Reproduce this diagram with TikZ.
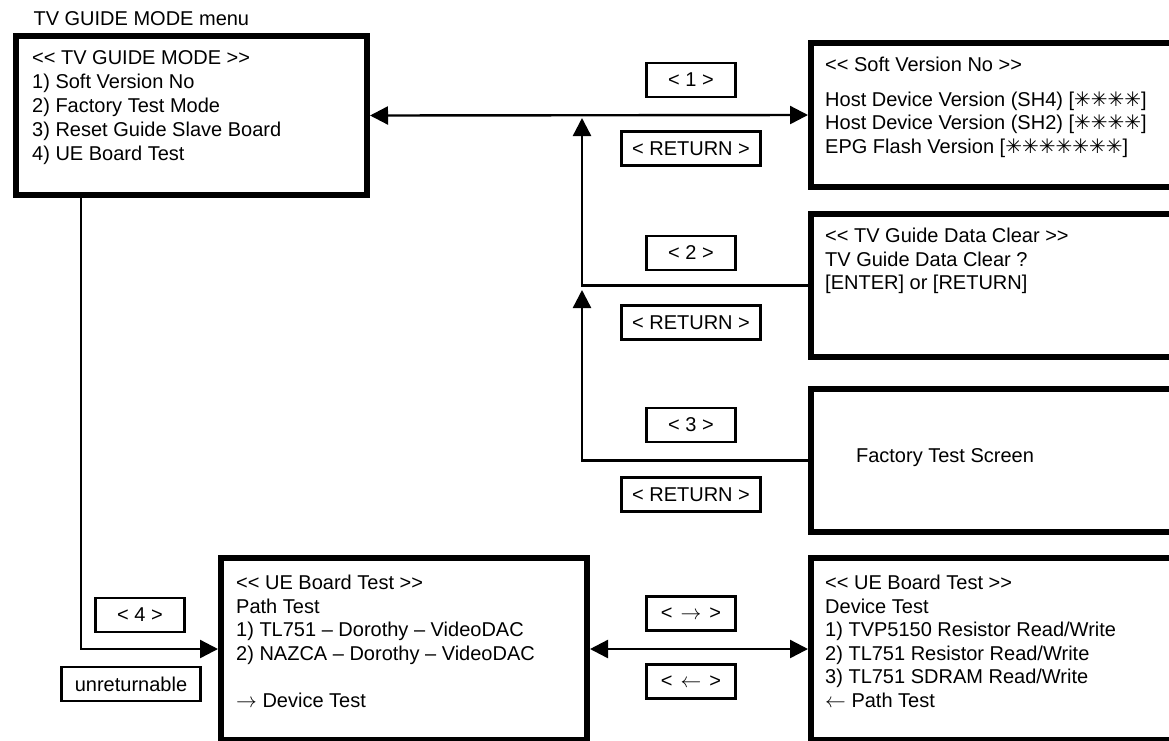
\documentclass[tikz,border=0pt]{standalone}
\usepackage{fontspec}
\setmainfont{Liberation Sans}[Ligatures=TeXOff]
\newfontfamily\dingfont{DejaVu Sans}
\usetikzlibrary{arrows.meta,positioning}

\begin{document}
\begin{tikzpicture}[
  x=1pt, y=-1pt,
  font=\fontsize{20}{23.5}\selectfont,
  screen/.style = {
    rectangle, draw, line width=6pt,
    anchor=north west, inner sep=0pt
  },
  screentext/.style = {anchor=north west, align=left, inner sep=0pt},
  keybox/.style = {
    rectangle, draw, line width=2.6pt,
    minimum width=89.5pt, minimum height=34pt, inner sep=0pt
  },
  widekey/.style = {keybox, minimum width=139.5pt},
  arrow/.style    = {-{Triangle[length=18pt,width=18pt]}, line width=2.4pt},
  dblarrow/.style = {{Triangle[length=18pt,width=18pt]}-{Triangle[length=18pt,width=18pt]}, line width=2.4pt},
]
\useasboundingbox (0,0) rectangle (1169,740);

%% ---- Screens ----
\node[anchor=base west] (title) at (30,25.5) {TV GUIDE MODE menu};

\node[screen, minimum width=351pt, minimum height=159pt] (main) at (13,33) {};
\node[screentext, font=\fontsize{20}{24}\selectfont] (maintxt) at (32,50) {%
  << TV GUIDE MODE >>\\
  1) Soft Version No\\
  2) Factory Test Mode\\
  3) Reset Guide Slave Board\\
  4) UE Board Test};

\node[screen, minimum width=366pt, minimum height=144pt] (soft) at (808,40) {};
\node[screentext] (softtxt) at (825,57) {%
  << Soft Version No >>\\[11pt]
  Host Device Version (SH4) [{\dingfont ✳✳✳✳}]\\
  Host Device Version (SH2) [{\dingfont ✳✳✳✳}]\\
  EPG Flash Version [{\dingfont ✳✳✳✳✳✳✳}]};

\node[screen, minimum width=366pt, minimum height=143pt] (clear) at (808,211) {};
\node[screentext] (cleartxt) at (825,228) {%
  << TV Guide Data Clear >>\\
  TV Guide Data Clear ?\\
  {[ENTER] or [RETURN]}};

\node[screen, minimum width=366pt, minimum height=143pt] (factory) at (808,386) {};
\node (factorytxt) at (945,457.5) {Factory Test Screen};

\node[screen, minimum width=366pt, minimum height=182pt] (pathtest) at (218,555) {};
\node[screentext] (pathtxt) at (236,575) {%
  << UE Board Test >>\\
  Path Test\\
  1) TL751 – Dorothy – VideoDAC\\
  2) NAZCA – Dorothy – VideoDAC\\[23.5pt]
  $\rightarrow$ Device Test};

\node[screen, minimum width=366pt, minimum height=182pt] (devtest) at (808,555) {};
\node[screentext] (devtxt) at (825,575) {%
  << UE Board Test >>\\
  Device Test\\
  1) TVP5150 Resistor Read/Write\\
  2) TL751 Resistor Read/Write\\
  3) TL751 SDRAM Read/Write\\
  $\leftarrow$ Path Test};

%% ---- Key labels ----
\node[keybox]  (key1)  at (691,80)    {< 1 >};
\node[widekey] (ret1)  at (691,148.5) {< RETURN >};
\node[keybox]  (key2)  at (691,253)   {< 2 >};
\node[widekey] (ret2)  at (691,322.5) {< RETURN >};
\node[keybox]  (key3)  at (691,425)   {< 3 >};
\node[widekey] (ret3)  at (691,494.5) {< RETURN >};
\node[keybox]  (key4)  at (140,615)   {< 4 >};
\node[widekey] (noret) at (131,684)   {unreturnable};
\node[keybox]  (keyr)  at (691,613.5) {<\hspace{8pt}$\rightarrow$\hspace{8pt}>};
\node[keybox]  (keyl)  at (691,681.5) {<\hspace{8pt}$\leftarrow$\hspace{8pt}>};

%% ---- Connectors ----
\coordinate (tip1) at (582,118);
\coordinate (tip2) at (582,290);

\draw[dblarrow] (main.east) -- (soft.west);
\draw[arrow] (clear.west) -| (tip1);
\draw[arrow] (factory.west) -| (tip2);
\draw[arrow] ([xshift=68pt]main.south west) |- (pathtest.west);
\draw[dblarrow] (pathtest.east) -- (devtest.west);

\end{tikzpicture}
\end{document}
